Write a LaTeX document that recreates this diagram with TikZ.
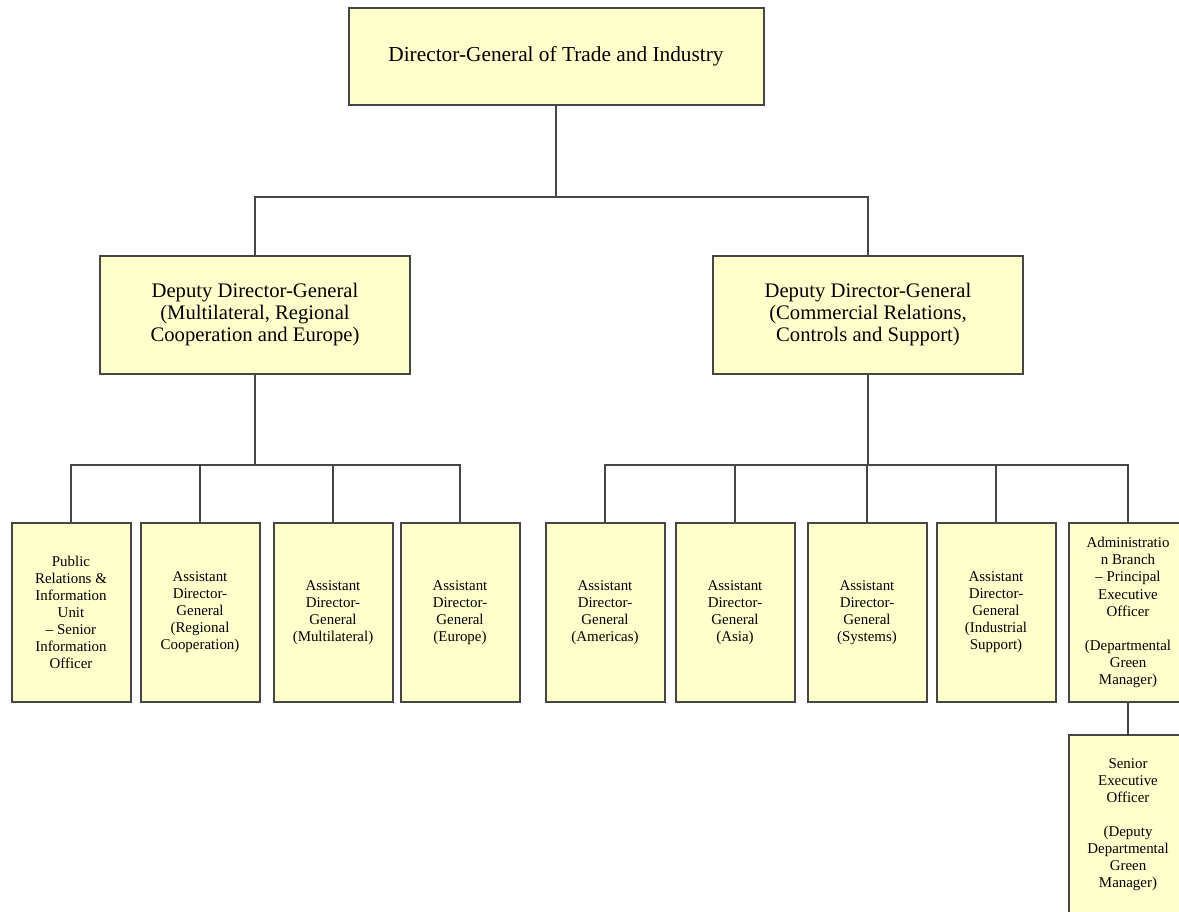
\documentclass[tikz,border=0pt]{standalone}
\usepackage{fontspec}
\setmainfont{Liberation Serif}
\definecolor{boxfill}{HTML}{FFFFCC}
\definecolor{boxline}{HTML}{464646}

\begin{document}
\begin{tikzpicture}[x=0.75pt, y=-0.75pt]
\useasboundingbox (0,0) rectangle (1179,912);
\tikzset{every node/.style={draw=boxline, fill=boxfill, line width=1.5pt, align=center, inner sep=0pt}}
\tikzset{big/.style={minimum width=311.25pt, minimum height=72.75pt, font=\fontsize{16}{19}\selectfont}}
\tikzset{mid/.style={minimum width=232.5pt, minimum height=88.5pt, font=\fontsize{15.5}{16.5}\selectfont}}
\tikzset{small/.style={minimum width=89.25pt, minimum height=134.25pt, font=\fontsize{11.2}{12.8}\selectfont}}

\node[big] (dg) at (556, 56.5) {Director-General of Trade and Industry};
\node[mid] (ddg1) at (255, 315) {Deputy Director-General\\(Multilateral, Regional\\Cooperation and Europe)};
\node[mid] (ddg2) at (868, 315) {Deputy Director-General\\(Commercial Relations,\\Controls and Support)};

\node[small] (pr) at (71, 612.5) {Public\\Relations \&\\Information\\Unit\\-- Senior\\Information\\Officer};
\node[small] (adg1) at (200, 612.5) {Assistant\\Director-\\General\\(Regional\\Cooperation)};
\node[small] (adg2) at (333, 612.5) {Assistant\\Director-\\General\\(Multilateral)};
\node[small] (adg3) at (460, 612.5) {Assistant\\Director-\\General\\(Europe)};
\node[small] (adg4) at (605, 612.5) {Assistant\\Director-\\General\\(Americas)};
\node[small] (adg5) at (735, 612.5) {Assistant\\Director-\\General\\(Asia)};
\node[small] (adg6) at (867, 612.5) {Assistant\\Director-\\General\\(Systems)};
\node[small] (adg7) at (996, 612.5) {Assistant\\Director-\\General\\(Industrial\\Support)};
\node[small] (adm) at (1128, 612.5) {Administratio\\n Branch\\-- Principal\\Executive\\Officer\\[12.8pt](Departmental\\Green\\Manager)};
\node[small] (seo) at (1128, 824.5) {Senior\\Executive\\Officer\\[12.8pt](Deputy\\Departmental\\Green\\Manager)};

\tikzset{every node/.style={}}
\tikzset{link/.style={draw=boxline, line width=1.5pt}}
\coordinate (bustop) at (556, 197);
\coordinate (busl) at (255, 465);
\coordinate (busr) at (868, 465);

\draw[link] (dg.south) -- (bustop);
\draw[link] (ddg1.north) |- (bustop) -| (ddg2.north);

\draw[link] (ddg1.south) -- (busl);
\foreach \n in {pr, adg1, adg2, adg3}
  \draw[link] (\n.north) |- (busl);

\draw[link] (ddg2.south) -- (busr);
\foreach \n in {adg4, adg5, adg6, adg7, adm}
  \draw[link] (\n.north) |- (busr);

\draw[link] (adm.south) -- (seo.north);
\end{tikzpicture}
\end{document}
